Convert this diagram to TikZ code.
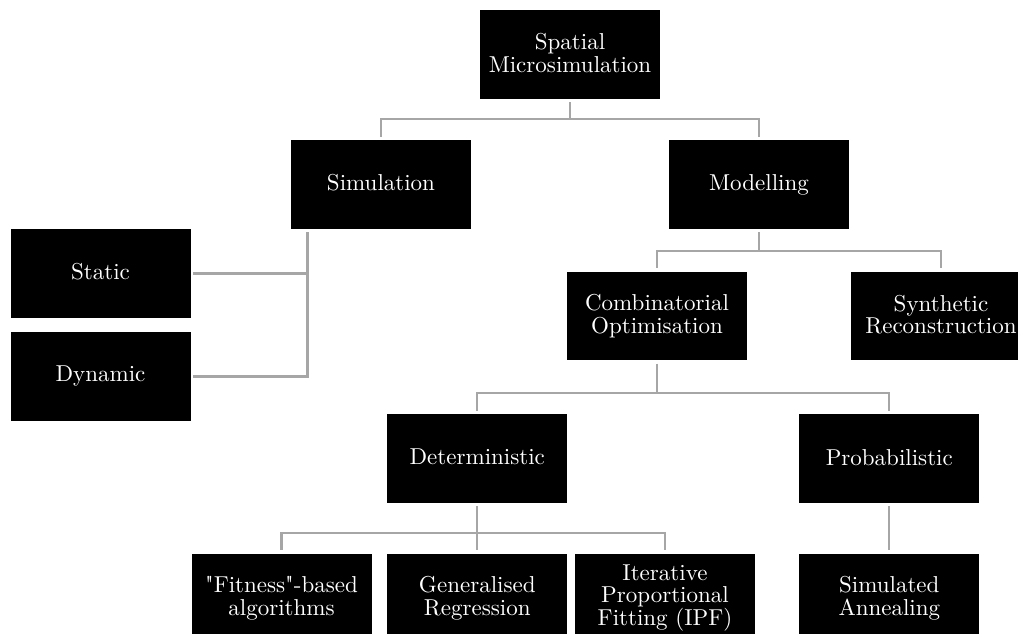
\documentclass[tikz,border=0pt]{standalone}
\usepackage{fontspec}
\newfontfamily\boxfont{lmroman10-regular.otf}
\usetikzlibrary{calc}
\newcommand\boxstrut{\rule[-3.3pt]{0pt}{19pt}}
\begin{document}
\begin{tikzpicture}[x=1pt,y=-1pt,
  box/.style={fill=black,text=white,minimum width=180pt,minimum height=89pt,
    inner sep=0pt,align=center,font=\boxfont\fontsize{23}{22.7}\selectfont,
    execute at begin node=\boxstrut, execute at end node=\boxstrut},
  conn/.style={draw=black!35,line width=2.3pt,line join=miter}]
\clip (0,0) rectangle (1018,634);
\fill[white] (0,0) rectangle (1018,634);
% nodes
\node[box] (sm)   at (570,54.5)    {Spatial\\Microsimulation};
\node[box] (sim)  at (381,184.5)   {Simulation};
\node[box] (mod)  at (759,184.5)   {Modelling};
\node[box] (sta)  at (100.5,273.5) {Static};
\node[box] (dyn)  at (100.5,376.5) {Dynamic};
\node[box,minimum height=88pt] (comb) at (657,316) {Combinatorial\\Optimisation};
\node[box,minimum height=88pt] (syn)  at (941,316) {Synthetic\\Reconstruction};
\node[box] (det)  at (477.3,458.7) {Deterministic};
\node[box] (prob) at (889.3,458.7) {Probabilistic};
\node[box] (fit)  at (281.5,598)   {"Fitness"-based\\algorithms};
\node[box] (gen)  at (477.3,598)   {Generalised\\Regression};
\node[box] (ipf)  at (665,598)     {Iterative\\Proportional\\Fitting (IPF)};
\node[box] (sa)   at (889.3,598)   {Simulated\\Annealing};
% junction coordinates
\coordinate (j1) at (570,119);
\coordinate (j2) at (759,251);
\coordinate (j3) at (657,393);
\coordinate (j4) at (477.3,532.7);
\coordinate (s1) at ($(sim.south west)+(16.7,3)$);
% connectors
\draw[conn] ([yshift=-3pt]sm.south) -- (j1) -| ([yshift=3pt]sim.north);
\draw[conn] (j1) -| ([yshift=3pt]mod.north);
\draw[conn] (s1) |- ([xshift=2pt]dyn.east);
\draw[conn] (s1 |- sta.east) -- ([xshift=2pt]sta.east);
\draw[conn] ([yshift=-3pt]mod.south) -- (j2) -| ([yshift=3.5pt]comb.north);
\draw[conn] (j2) -| ([yshift=3.5pt]syn.north);
\draw[conn] ([yshift=-3.5pt]comb.south) -- (j3) -| ([yshift=3pt]det.north);
\draw[conn] (j3) -| ([yshift=3pt]prob.north);
\draw[conn] ([yshift=-3pt]det.south) -- ([yshift=3.5pt]gen.north);
\draw[conn] (j4) -| ([yshift=3.5pt]fit.north);
\draw[conn] (j4) -| ([yshift=3.5pt]ipf.north);
\draw[conn] ([yshift=-3pt]prob.south) -- ([yshift=3.5pt]sa.north);
\end{tikzpicture}
\end{document}
